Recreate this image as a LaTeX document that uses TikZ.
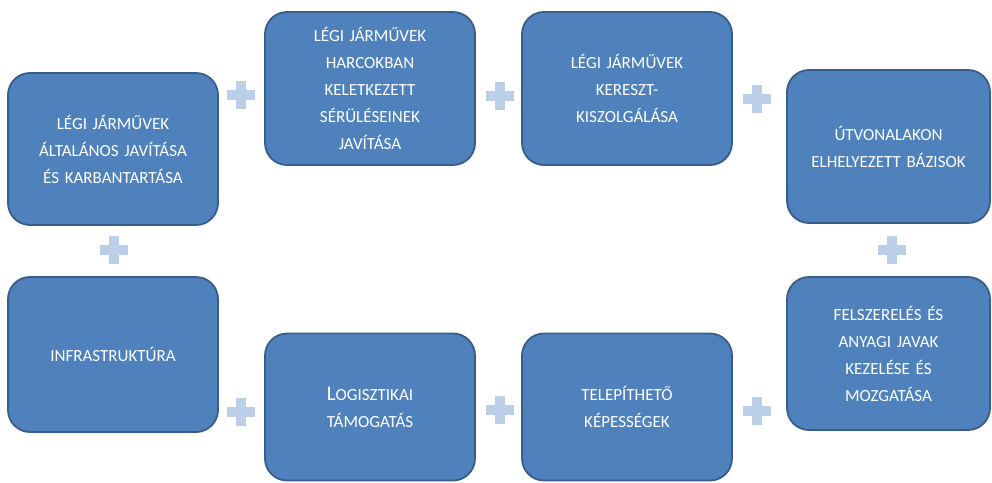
\documentclass[tikz,border=0pt]{standalone}
\usepackage{fontspec}
\setmainfont{Carlito}
\definecolor{boxfill}{HTML}{4F81BD}
\definecolor{boxedge}{HTML}{385D8A}
\definecolor{plusc}{HTML}{BCCFE8}
\begin{document}
\begin{tikzpicture}[x=1pt,y=-1pt,
  card/.style={draw=boxedge,line width=1.8pt,fill=boxfill,rounded corners=22pt,
    text=white,align=center,inner sep=0pt,
    font=\fontsize{17}{27}\selectfont},
  plussign/.pic={\fill[plusc] (-14,-5) rectangle (14,5);
                 \fill[plusc] (-5,-14) rectangle (5,14);}]
\useasboundingbox (0,0) rectangle (992,482);
\node[card,minimum width=210pt,minimum height=152pt,text width=200pt] (b1) at (113,149)
  {LÉGI JÁRMŰVEK\\ÁLTALÁNOS JAVÍTÁSA\\ÉS KARBANTARTÁSA};
\node[card,minimum width=210pt,minimum height=153pt,text width=200pt] (b2) at (370,88.5)
  {LÉGI JÁRMŰVEK\\HARCOKBAN\\KELETKEZETT\\SÉRÜLÉSEINEK\\JAVÍTÁSA};
\node[card,minimum width=210pt,minimum height=153pt,text width=200pt] (b3) at (627,88.5)
  {LÉGI JÁRMŰVEK\\KERESZT-\\KISZOLGÁLÁSA};
\node[card,minimum width=203pt,minimum height=153pt,text width=196pt] (b4) at (888.5,146.5)
  {ÚTVONALAKON\\ELHELYEZETT BÁZISOK};
\node[card,minimum width=210pt,minimum height=155pt,text width=200pt] (b5) at (113,354.5)
  {INFRASTRUKTÚRA};
\node[card,minimum width=210pt,minimum height=147pt,text width=200pt] (b6) at (370,407)
  {{\fontsize{21}{27}\selectfont L}OGISZTIKAI\\TÁMOGATÁS};
\node[card,minimum width=210pt,minimum height=147pt,text width=200pt] (b7) at (627,407)
  {TELEPÍTHETŐ\\KÉPESSÉGEK};
\node[card,minimum width=203pt,minimum height=153pt,text width=196pt] (b8) at (888.5,353.5)
  {FELSZERELÉS ÉS\\ANYAGI JAVAK\\KEZELÉSE ÉS\\MOZGATÁSA};
\coordinate (p12) at (241,95);
\coordinate (p23) at (500,96);
\coordinate (p34) at (757,99);
\coordinate (p15) at (114,250);
\coordinate (p48) at (892,250);
\coordinate (p56) at (241,412);
\coordinate (p67) at (500,410);
\coordinate (p78) at (757,411);
\foreach \p in {p12,p23,p34,p15,p48,p56,p67,p78}
  \pic at (\p) {plussign};
\end{tikzpicture}
\end{document}
